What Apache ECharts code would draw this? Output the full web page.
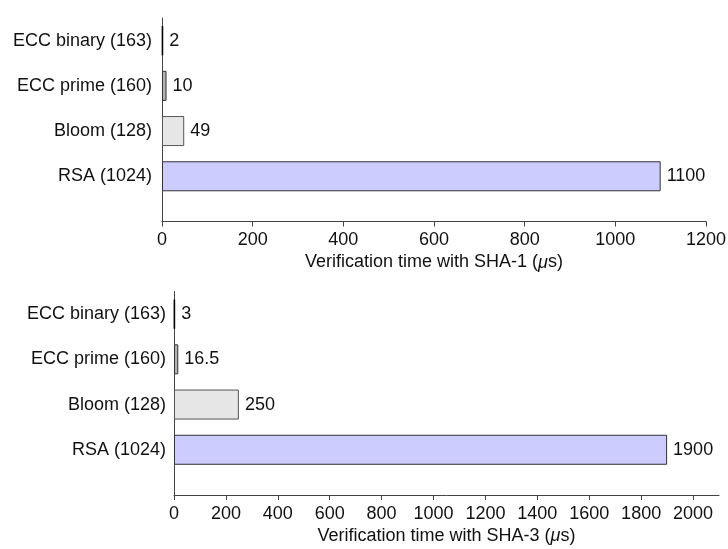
<!DOCTYPE html>
<html>
<head>
<meta charset="utf-8">
<script src="https://cdn.jsdelivr.net/npm/echarts@6/dist/echarts.min.js"></script>
<style>
html,body{margin:0;padding:0;background:#fff;}
#c{width:728px;height:549px;}
</style>
</head>
<body>
<div id="c"></div>
<script>
// ---- data ----
const categories = ['ECC binary (163)', 'ECC prime (160)', 'Bloom (128)', 'RSA (1024)'];
const sha1Values = [2, 10, 49, 1100];
const sha3Values = [3, 16.5, 250, 1900];
const sha1Ticks = [0, 200, 400, 600, 800, 1000, 1200];
const sha3Ticks = [0, 200, 400, 600, 800, 1000, 1200, 1400, 1600, 1800, 2000];
const sha1Title = 'Verification time with SHA-1 ({i|μ}s)';
const sha3Title = 'Verification time with SHA-3 ({i|μ}s)';

// ---- styles ----
const barStyles = [
  {color: '#000000', borderColor: '#000000', borderWidth: 1.6},
  {color: '#b3b3b3', borderColor: '#333333', borderWidth: 1},
  {color: '#e6e6e6', borderColor: '#555555', borderWidth: 1},
  {color: '#ccccff', borderColor: '#333333', borderWidth: 1}
];
const FONT = 'Liberation Sans';
const FS = 18;
const TXT = '#111111';
const AX = '#444444';

// half-step slots from bottom: slot 0 = axis line, bars at slots 2,4,6,8 (RSA..ECC binary), slot 9 = top
function slotLabels() {
  const arr = [];
  for (let s = 0; s < 10; s++) {
    const k = s / 2;
    if (s % 2 === 0 && k >= 1 && k <= 4) arr.push(categories[4 - k]);
    else arr.push('');
  }
  return arr;
}
function slotData(values) {
  const arr = [];
  for (let s = 0; s < 10; s++) {
    const k = s / 2;
    if (s % 2 === 0 && k >= 1 && k <= 4) {
      const i = 4 - k;
      arr.push({value: values[i], itemStyle: barStyles[i]});
    } else arr.push('-');
  }
  return arr;
}

function xAxisCfg(gridIndex, ticks, maxV, title) {
  return {
    type: 'value', gridIndex: gridIndex,
    min: 0, max: maxV, interval: 200,
    axisLine: {show: true, lineStyle: {color: AX, width: 1}},
    axisTick: {show: true, length: 5, inside: false, lineStyle: {color: AX}},
    splitLine: {show: false},
    axisLabel: {
      color: TXT, fontFamily: FONT, fontSize: FS, margin: 10,
      showMaxLabel: maxV === ticks[ticks.length - 1],
      formatter: v => ticks.indexOf(v) >= 0 ? String(v) : ''
    },
    name: title, nameLocation: 'middle', nameGap: 32,
    nameTextStyle: {color: TXT, fontFamily: FONT, fontSize: FS,
      rich: {i: {fontStyle: 'italic', fontFamily: FONT, fontSize: FS, color: TXT}}}
  };
}
function yAxisCfg(gridIndex, margin) {
  return {
    type: 'category', gridIndex: gridIndex, data: slotLabels(), boundaryGap: false,
    axisLine: {show: true, lineStyle: {color: AX, width: 1}},
    axisTick: {show: false},
    splitLine: {show: false},
    axisLabel: {color: TXT, fontFamily: FONT, fontSize: FS, margin: margin, interval: 0}
  };
}
function seriesCfg(idx, values) {
  return {
    type: 'bar', xAxisIndex: idx, yAxisIndex: idx,
    data: slotData(values), barWidth: 30, barGap: '-100%',
    label: {show: true, position: 'right', distance: 6, color: TXT,
      fontFamily: FONT, fontSize: FS},
    animation: false
  };
}

const chart = echarts.init(document.getElementById('c'), null, {renderer: 'canvas'});
chart.setOption({
  backgroundColor: '#ffffff',
  animation: false,
  grid: [
    {left: 162, top: 18, width: 544, height: 203.5, outerBoundsMode: 'none', containLabel: false},
    {left: 174, top: 291.5, width: 545, height: 203.5, outerBoundsMode: 'none', containLabel: false}
  ],
  xAxis: [xAxisCfg(0, sha1Ticks, 1200, sha1Title), xAxisCfg(1, sha3Ticks, 2100, sha3Title)],
  yAxis: [yAxisCfg(0, 10), yAxisCfg(1, 8)],
  series: [seriesCfg(0, sha1Values), seriesCfg(1, sha3Values)]
});
</script>
</body>
</html>
